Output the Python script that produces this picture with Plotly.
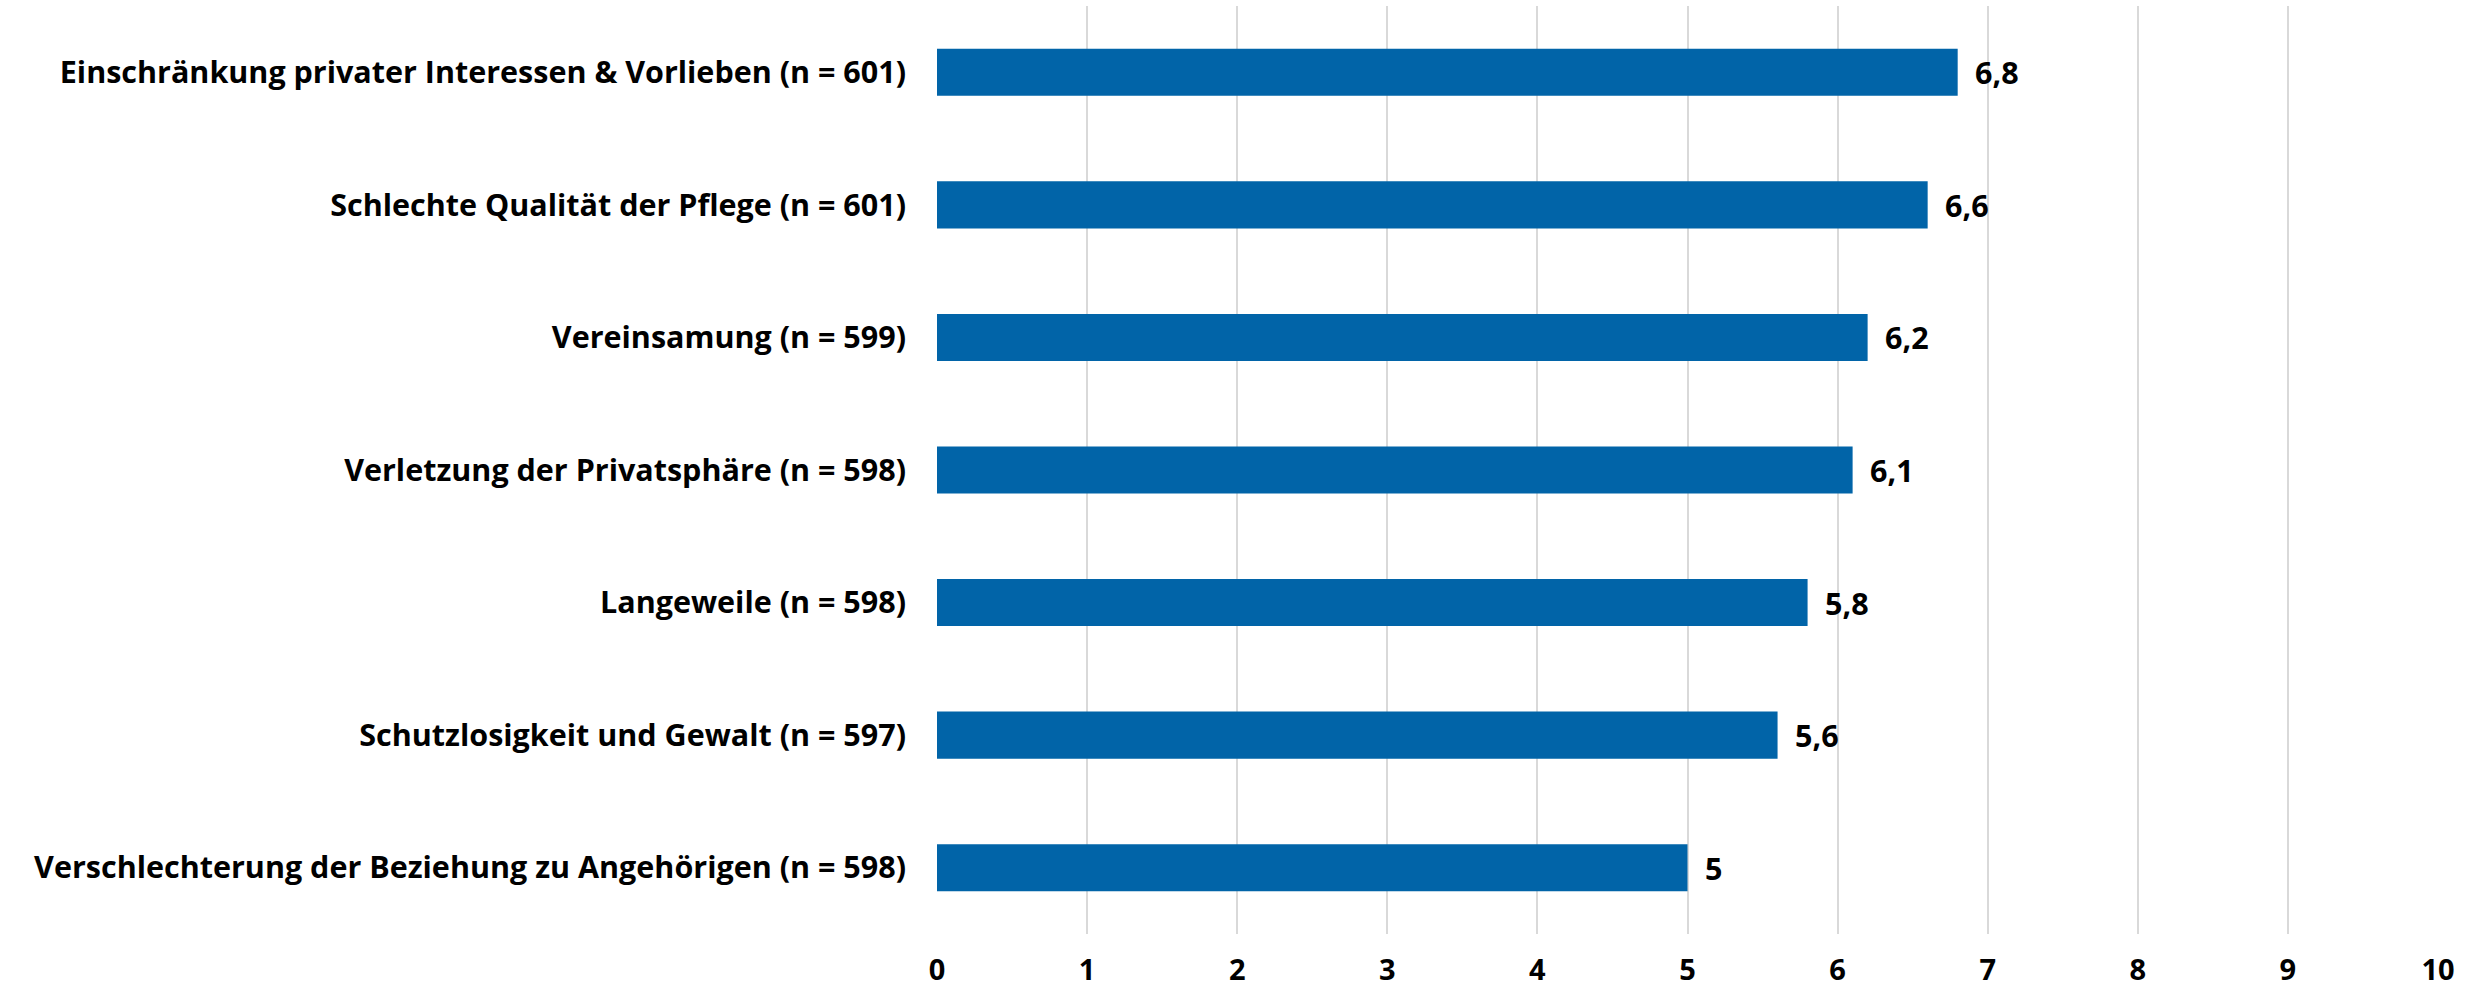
import plotly.graph_objects as go

categories = [
    "Einschränkung privater Interessen & Vorlieben (n = 601)",
    "Schlechte Qualität der Pflege (n = 601)",
    "Vereinsamung (n = 599)",
    "Verletzung der Privatsphäre (n = 598)",
    "Langeweile (n = 598)",
    "Schutzlosigkeit und Gewalt (n = 597)",
    "Verschlechterung der Beziehung zu Angehörigen (n = 598)",
]
values = [6.8, 6.6, 6.2, 6.1, 5.8, 5.6, 5.0]
tick_values = list(range(0, 11))

def fmt(v):
    s = ("%.1f" % v).rstrip("0").rstrip(".")
    return s.replace(".", ",")

FONT = "Open Sans"
FS = 30.5
fig = go.Figure()
fig.add_trace(go.Bar(
    x=values, y=categories, orientation="h",
    marker=dict(color="#0164A8", line=dict(width=0)),
    width=0.355, hoverinfo="skip",
))
for c, v in zip(categories, values):
    fig.add_annotation(x=v, y=c, text=fmt(v), showarrow=False,
                       xanchor="left", yanchor="middle", xshift=15,
                       font=dict(family=FONT, size=FS, color="#000000", weight="bold"))

fig.update_layout(
    width=2474, height=991,
    margin=dict(l=937, r=36, t=6, b=57, autoexpand=False),
    plot_bgcolor="white", paper_bgcolor="white",
    showlegend=False,
    font=dict(family=FONT, size=FS, color="#000000", weight="bold"),
    xaxis=dict(range=[0, 10], tickvals=tick_values, showgrid=True,
               gridcolor="#D9D9D9", gridwidth=2, zeroline=False,
               showline=False, ticks="", ticklabelstandoff=16,
               tickfont=dict(family=FONT, size=29, color="#000000", weight="bold")),
    yaxis=dict(categoryorder="array", categoryarray=categories[::-1],
               autorange=False, range=[-0.5, 6.5],
               showgrid=False, zeroline=False, showline=False, ticks="",
               ticklabelstandoff=30,
               tickfont=dict(family=FONT, size=FS, color="#000000", weight="bold")),
)
fig.write_html("out.html")
